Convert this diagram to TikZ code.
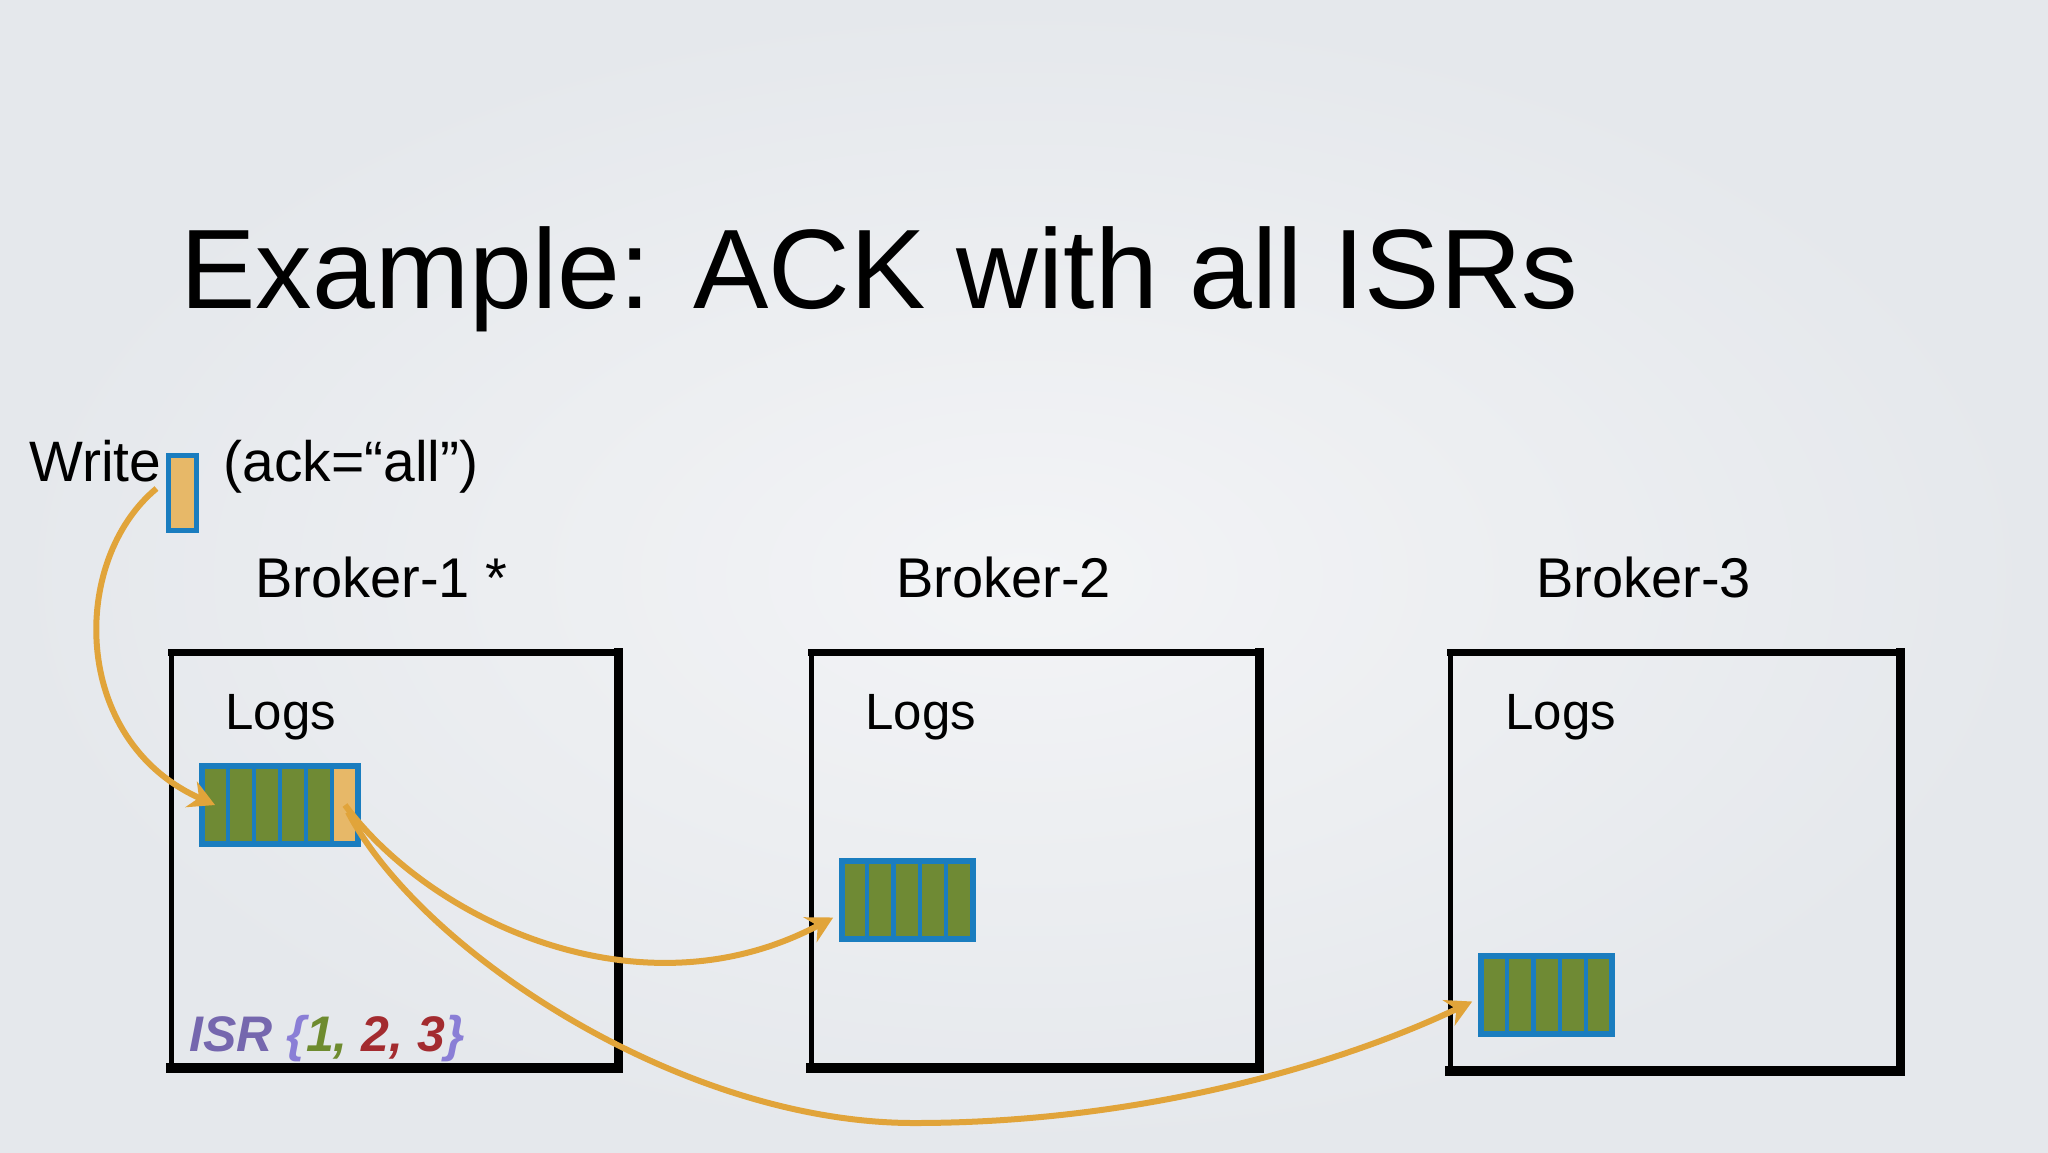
\documentclass[tikz,border=0pt]{standalone}
\usepackage{fontspec}
\setmainfont{Liberation Sans}
\usetikzlibrary{arrows.meta,calc}
\definecolor{bgin}{HTML}{F3F4F6}
\definecolor{bgout}{HTML}{E5E8EC}
\definecolor{loggreen}{HTML}{6F8A34}
\definecolor{logblue}{HTML}{1A7DBF}
\definecolor{logorange}{HTML}{E7B868}
\definecolor{arrorange}{HTML}{E1A43A}
\definecolor{isrpurple}{HTML}{7567AE}
\definecolor{bracepurple}{HTML}{8A7ED6}
\definecolor{isrgreen}{HTML}{6E8B2F}
\definecolor{isrred}{HTML}{A32B2F}
\begin{document}
\begin{tikzpicture}[x=0.5pt,y=-0.5pt,
  txt/.style={inner sep=0pt, anchor=base west, text=black},
  cell/.style={draw=logblue, line width=2pt, minimum width=13pt, minimum height=39pt, inner sep=0pt, outer sep=0pt},
  gcell/.style={cell, fill=loggreen},
  ocell/.style={cell, fill=logorange},
  frame/.style={draw=logblue, line width=2.5pt, inner sep=0pt, outer sep=0pt, minimum height=39pt},
  boxnode/.style={inner sep=0pt, outer sep=0pt, minimum height=208pt},
  side/.style={draw=black, line cap=rect},
  arr/.style={draw=arrorange, line width=3pt, -{Stealth[length=13pt,width=14pt]}}]
% background
\shade[inner color=bgin, outer color=bgout] (0,0) rectangle (2048,1152);
\useasboundingbox (0,0) rectangle (2048,1152);
% title
\node[txt, font=\fontsize{56.5}{60}\selectfont] (title) at (180,308) {Example: ACK with all ISRs};
% write line
\node[txt, font=\fontsize{28.5}{32}\selectfont] (write) at (29,481) {Write};
\node[draw=logblue, fill=logorange, line width=2.5pt, minimum width=14pt, minimum height=37.5pt, inner sep=0pt] (wr) at (182,492.5) {};
\node[txt, font=\fontsize{28.5}{32}\selectfont] (ack) at (223,481) {(ack=“all”)};
% broker labels
\node[txt, font=\fontsize{28}{32}\selectfont] (bl1) at (255,597) {Broker-1 *};
\node[txt, font=\fontsize{28}{32}\selectfont] (bl2) at (896,597) {Broker-2};
\node[txt, font=\fontsize{28}{32}\selectfont] (bl3) at (1536,597) {Broker-3};
% broker boxes
\node[boxnode, minimum width=223.5pt] (b1) at (394.5,860) {};
\node[boxnode, minimum width=224pt] (b2) at (1035,860) {};
\node[boxnode, minimum width=225pt, minimum height=209.5pt] (b3) at (1675,861.5) {};
\foreach \b in {b1,b2,b3}{
  \draw[side, line width=2.5pt] (\b.north west) -- (\b.south west);
  \draw[side, line width=3.5pt] (\b.north west) -- (\b.north east);
  \draw[side, line width=4.5pt] (\b.north east) -- (\b.south east);
  \draw[side, line width=5pt] (\b.south west) -- (\b.south east);
}
% logs labels
\node[txt, font=\fontsize{25.5}{30}\selectfont] (lg1) at (225,729) {Logs};
\node[txt, font=\fontsize{25.5}{30}\selectfont] (lg2) at (865,729) {Logs};
\node[txt, font=\fontsize{25.5}{30}\selectfont] (lg3) at (1505,729) {Logs};
% log arrays
\node[frame, minimum width=78pt] (log1) at (280,805) {};
\foreach \i in {1,...,5}{\node[gcell] (c1\i) at ({189+26*\i},805) {};}
\node[ocell] (c16) at (345,805) {};
\draw[logblue, line width=3pt] (log1.north west) rectangle (log1.south east);
\node[frame, minimum width=65.5pt] (log2) at (907,899.5) {};
\foreach \i in {1,...,5}{\node[gcell] (c2\i) at ({828+26.2*\i},899.5) {};}
\draw[logblue, line width=3pt] (log2.north west) rectangle (log2.south east);
\node[frame, minimum width=65.5pt] (log3) at (1546.5,994.5) {};
\foreach \i in {1,...,5}{\node[gcell] (c3\i) at ({1468+26.2*\i},994.5) {};}
\draw[logblue, line width=3pt] (log3.north west) rectangle (log3.south east);
% ISR
\node[txt, font=\fontsize{25}{30}\selectfont\bfseries\itshape] (isr) at (189,1051)
  {\textcolor{isrpurple}{ISR} \textcolor{bracepurple}{\{}\textcolor{isrgreen}{1,} \textcolor{isrred}{2, 3}\textcolor{bracepurple}{\}}};
% arrows
\coordinate (low) at (914,1123);
\draw[arr] ($(wr.west)+(-9,-4)$) .. controls (70,560) and (70,740) .. (c11.center);
\draw[arr] (c16.center) .. controls (430,920) and (640,1020) .. ($(c21.west)+(-8,18)$);
\draw[arr] ($(c16.center)+(3,7)$) .. controls (420,950) and (680,1123) .. (low) .. controls (1150,1123) and (1350,1060) .. ($(c31.west)+(-9,7)$);
\end{tikzpicture}
\end{document}
